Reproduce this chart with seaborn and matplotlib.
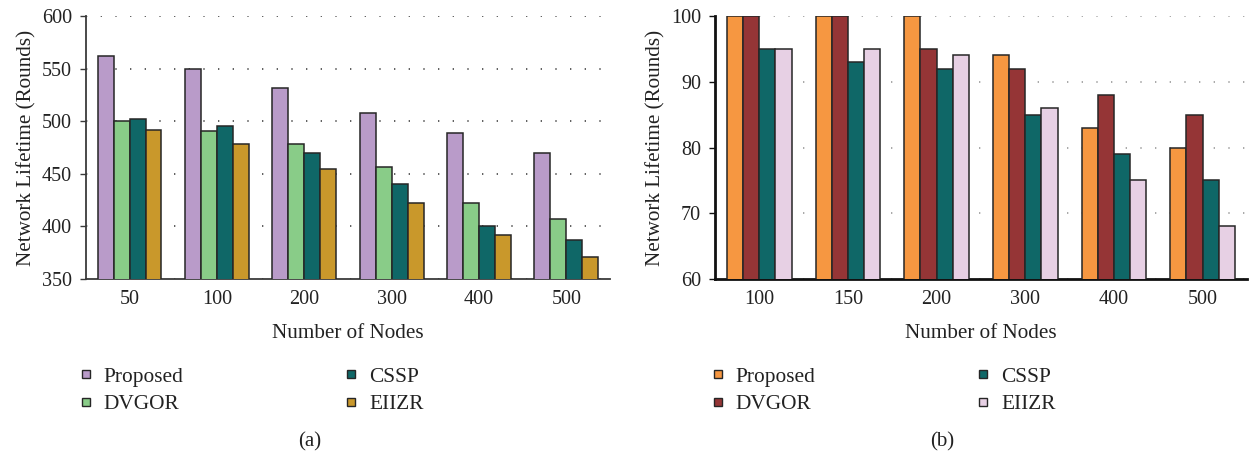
import matplotlib
matplotlib.use("Agg")
import matplotlib.pyplot as plt
from matplotlib.lines import Line2D
from matplotlib.ticker import FixedLocator
import seaborn as sns
import pandas as pd

sns.set_theme(style="white")
plt.rcParams["font.family"] = ["Liberation Serif", "DejaVu Serif"]

methods = ["Proposed", "DVGOR", "CSSP", "EIIZR"]

# (a) lifetime vs. node count
nodes_a = ["50", "100", "200", "300", "400", "500"]
proposed_a = [562, 550, 532, 508, 489, 470]
dvgor_a = [500, 491, 478, 456, 422, 407]
cssp_a = [502, 495, 470, 440, 400, 387]
eiizr_a = [492, 478, 455, 422, 392, 371]
colors_a = ["#b99bc9", "#89cc88", "#0f6767", "#c9982b"]

# (b) lifetime vs. node count
nodes_b = ["100", "150", "200", "300", "400", "500"]
proposed_b = [100, 100, 100, 94, 83, 80]
dvgor_b = [100, 100, 95, 92, 88, 85]
cssp_b = [95, 93, 92, 85, 79, 75]
eiizr_b = [95, 95, 94, 86, 75, 68]
colors_b = ["#f69741", "#953536", "#0f6767", "#e7d0e4"]


def long_frame(nodes, series):
    rows = []
    for name, vals in zip(methods, series):
        for n, v in zip(nodes, vals):
            rows.append({"Nodes": n, "Method": name, "Lifetime": v})
    return pd.DataFrame(rows)


def draw_panel(ax, df, nodes, colors, ylim, yticks, spine_color, spine_lw, grid_color):
    sns.barplot(data=df, x="Nodes", y="Lifetime", hue="Method", order=nodes,
                hue_order=methods, palette=colors, width=0.73, gap=0,
                edgecolor="#262626", linewidth=1.1, saturation=1, ax=ax,
                legend=False, zorder=3)
    ax.set_ylim(*ylim)
    ax.set_xlim(-0.5, len(nodes) - 0.5)
    ax.set_yticks(yticks)
    ax.yaxis.grid(True, linestyle=(0, (0.8, 8)), color=grid_color, linewidth=1.2, zorder=0)
    ax.xaxis.grid(False)
    ax.set_axisbelow(True)
    for side in ["top", "right"]:
        ax.spines[side].set_visible(False)
    for side in ["left", "bottom"]:
        ax.spines[side].set_color(spine_color)
        ax.spines[side].set_linewidth(spine_lw)
    ax.xaxis.set_minor_locator(FixedLocator([i - 0.5 for i in range(len(nodes) + 1)]))
    ax.tick_params(axis="x", which="major", length=0, labelsize=14.5, pad=8, colors="#222222")
    ax.tick_params(axis="x", which="minor", length=4, width=1, color=spine_color, direction="out")
    ax.tick_params(axis="y", which="major", length=4, width=1, color=spine_color,
                   direction="out", labelsize=14.5, pad=6, left=True, labelcolor="#222222")
    ax.set_xlabel("Number of Nodes", fontsize=15.2, color="#222222", labelpad=11)
    ax.set_ylabel("Network Lifetime (Rounds)", fontsize=15.2, color="#222222", labelpad=4)


fig = plt.figure(figsize=(12.51, 4.55), dpi=100)
ax_a = fig.add_axes([0.0687, 0.3868, 0.4189, 0.578])
ax_b = fig.add_axes([0.5715, 0.3868, 0.4253, 0.578])

df_a = long_frame(nodes_a, [proposed_a, dvgor_a, cssp_a, eiizr_a])
df_b = long_frame(nodes_b, [proposed_b, dvgor_b, cssp_b, eiizr_b])

draw_panel(ax_a, df_a, nodes_a, colors_a, (350, 600), [350, 400, 450, 500, 550, 600],
           "#3a3a3a", 1.3, "#444444")
draw_panel(ax_b, df_b, nodes_b, colors_b, (60, 100), [60, 70, 80, 90, 100],
           "#111111", 2.0, "#999999")


def add_legend(colors, x0):
    handles = [Line2D([0], [0], marker="s", linestyle="none", markersize=5.5,
                      markerfacecolor=c, markeredgecolor="#262626", markeredgewidth=1.0)
               for c in colors]
    fig.legend(handles, methods, loc="upper left", bbox_to_anchor=(x0, 0.194),
               ncol=2, frameon=False, fontsize=15.4, handlelength=1.0,
               handletextpad=0.34, columnspacing=7.35, labelspacing=0.36,
               borderaxespad=0, borderpad=0, labelcolor="#222222")


add_legend(colors_a, 0.060)
add_legend(colors_b, 0.565)

fig.text(310 / 1251, 1 - 442 / 455, "(a)", ha="center", va="center", fontsize=15, color="#222222")
fig.text(942 / 1251, 1 - 442 / 455, "(b)", ha="center", va="center", fontsize=15, color="#222222")

fig.savefig("out.png", dpi=100)
